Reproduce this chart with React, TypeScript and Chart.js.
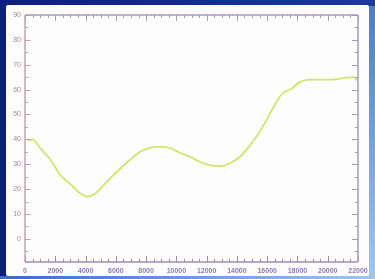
import React, { useEffect, useRef } from "react";
import { Chart, registerables } from "chart.js";

Chart.register(...registerables);

const xValues = [200, 500, 1000, 1650, 2300, 3000, 3600, 4100, 4600, 5000, 5600, 6300, 6900, 7600, 8250, 8900, 9600, 10250, 10900, 11550, 12200, 12900, 13550, 14200, 14850, 15700, 16400, 17000, 17650, 18150, 18800, 20150, 21250, 21700, 21950];
const yValues = [39.5, 40, 36.5, 32, 26, 22, 18.5, 17, 18, 20.3, 24.2, 28.3, 31.6, 35, 36.6, 37, 36.5, 34.5, 33, 31, 29.6, 29.2, 30.4, 33, 37.5, 45, 52.8, 58.4, 60.5, 63, 64, 64, 64.8, 65, 63.6];
const yTickValues = [0, 10, 20, 30, 40, 50, 60, 70, 80, 90];
const xTickValues = [0, 2000, 4000, 6000, 8000, 10000, 12000, 14000, 16000, 18000, 20000, 22000];

const framePlugin = {
  id: "frame",
  afterDatasetsDraw(chart: any) {
    const { ctx, chartArea, scales } = chart;
    const { left, right, top, bottom } = chartArea;
    const xs = scales.x;
    const ys = scales.y;
    ctx.save();
    ctx.lineWidth = 1;
    for (let v = -5; v <= 90; v += 5) {
      const py = Math.round(ys.getPixelForValue(v)) + 0.5;
      const len = v % 10 === 0 ? 6 : 3;
      ctx.strokeStyle = "#c4a2b2";
      ctx.beginPath();
      ctx.moveTo(left, py);
      ctx.lineTo(left + len, py);
      ctx.stroke();
      ctx.strokeStyle = "#a898bc";
      ctx.beginPath();
      ctx.moveTo(right, py);
      ctx.lineTo(right - len, py);
      ctx.stroke();
    }
    for (let v = 0; v <= 22000; v += 500) {
      const px = Math.round(xs.getPixelForValue(v)) + 0.5;
      const len = v % 2000 === 0 ? 6 : 3;
      ctx.strokeStyle = "#9c8cb4";
      ctx.beginPath();
      ctx.moveTo(px, bottom);
      ctx.lineTo(px, bottom - len);
      ctx.stroke();
      ctx.strokeStyle = "#aa9cb8";
      ctx.beginPath();
      ctx.moveTo(px, top);
      ctx.lineTo(px, top + len);
      ctx.stroke();
    }
    ctx.lineWidth = 1.5;
    ctx.strokeStyle = "#c4a2b2";
    ctx.beginPath();
    ctx.moveTo(left, top);
    ctx.lineTo(left, bottom);
    ctx.stroke();
    ctx.strokeStyle = "#9c8cb4";
    ctx.beginPath();
    ctx.moveTo(left, bottom);
    ctx.lineTo(right, bottom);
    ctx.stroke();
    ctx.strokeStyle = "#a898bc";
    ctx.beginPath();
    ctx.moveTo(right, bottom);
    ctx.lineTo(right, top);
    ctx.stroke();
    ctx.strokeStyle = "#aa9cb8";
    ctx.beginPath();
    ctx.moveTo(right, top);
    ctx.lineTo(left, top);
    ctx.stroke();
    ctx.restore();
  },
};

export default function App() {
  const ref = useRef<HTMLCanvasElement>(null);
  useEffect(() => {
    if (!ref.current) return;
    const chart = new Chart(ref.current, {
      type: "line",
      data: {
        datasets: [
          {
            data: xValues.map((x, i) => ({ x, y: yValues[i] })),
            borderColor: "#d3e46c",
            borderWidth: 1.8,
            pointRadius: 0,
            cubicInterpolationMode: "monotone",
            fill: false,
          },
        ],
      },
      options: {
        animation: false,
        responsive: false,
        maintainAspectRatio: false,
        layout: { padding: { top: 15, right: 17, left: 0, bottom: 0 } },
        plugins: { legend: { display: false }, tooltip: { enabled: false } },
        scales: {
          x: {
            type: "linear",
            min: 0,
            max: 22000,
            afterBuildTicks: (s: any) => {
              s.ticks = xTickValues.map((v) => ({ value: v }));
            },
            afterFit: (s: any) => {
              s.height = 17;
            },
            grid: { display: false, drawTicks: false },
            border: { display: false },
            ticks: {
              padding: 5,
              maxRotation: 0,
              autoSkip: false,
              color: "#8e7cae",
              font: { family: "Liberation Sans", size: 7, weight: "bold" },
              callback: (v: any) => String(v),
            },
          },
          y: {
            type: "linear",
            min: -9.3,
            max: 90,
            afterBuildTicks: (s: any) => {
              s.ticks = yTickValues.map((v) => ({ value: v }));
            },
            afterFit: (s: any) => {
              s.width = 25;
            },
            grid: { display: false, drawTicks: false },
            border: { display: false },
            ticks: {
              padding: 4,
              color: "#a08a98",
              font: { family: "Liberation Sans", size: 7 },
              callback: (v: any) => String(v),
            },
          },
        },
      },
      plugins: [framePlugin],
    });
    return () => chart.destroy();
  }, []);
  return (
    <div
      style={{
        position: "fixed",
        left: 0,
        top: 0,
        width: 375,
        height: 279,
        background: "linear-gradient(90deg, #0c1f7e 0%, #1a3a9c 100%)",
        overflow: "hidden",
      }}
    >
      <div
        style={{
          position: "absolute",
          left: 366,
          top: 6,
          width: 9,
          height: 273,
          background: "linear-gradient(180deg, #4f7cc8, #9cc8ee)",
        }}
      />
      <div
        style={{
          position: "absolute",
          left: 0,
          top: 276,
          width: 375,
          height: 3,
          background: "linear-gradient(90deg, #3a6cc0, #9cc8ee)",
        }}
      />
      <div
        style={{
          position: "absolute",
          left: 6,
          top: 5,
          width: 363,
          height: 271,
          background: "#fdfdfd",
          borderRadius: 2,
        }}
      />
      <canvas
        ref={ref}
        width={375}
        height={279}
        style={{ position: "absolute", left: 0, top: 0, width: 375, height: 279 }}
      />
    </div>
  );
}
